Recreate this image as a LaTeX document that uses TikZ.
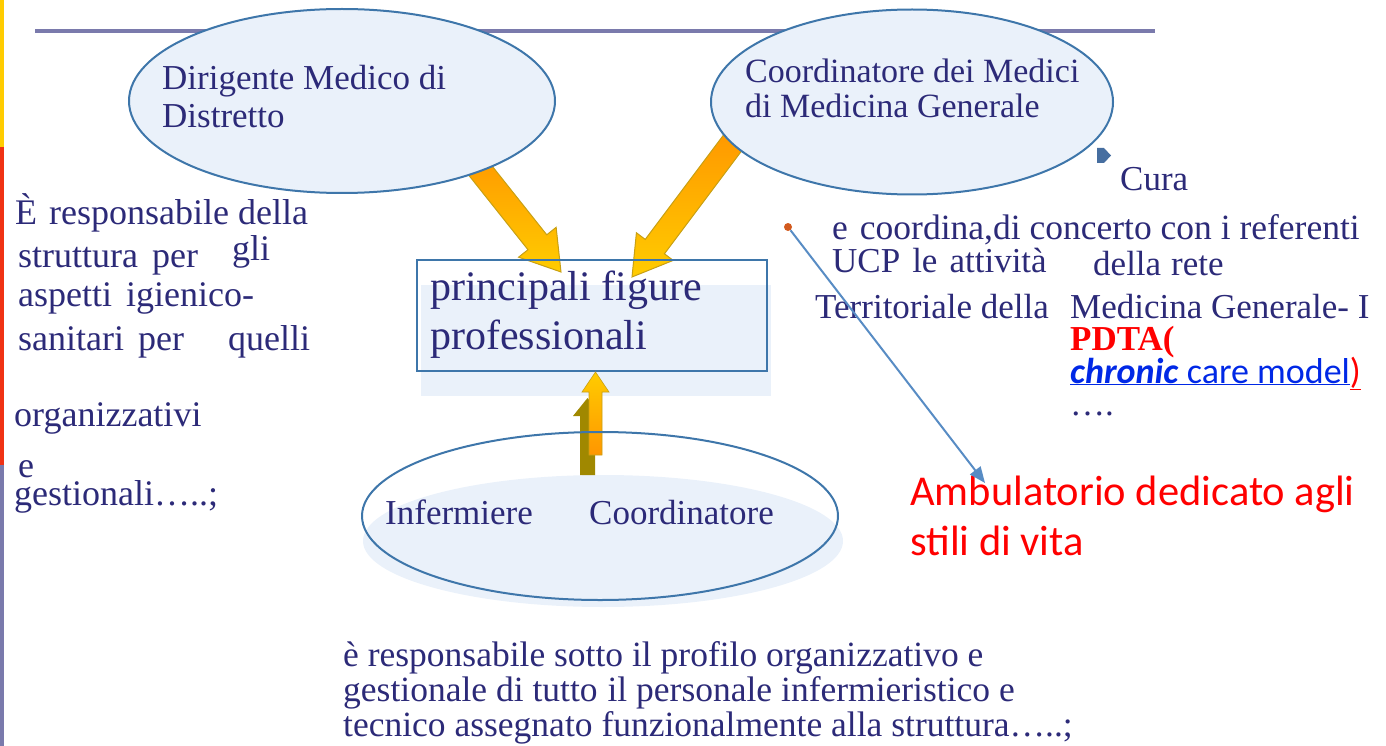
\documentclass[tikz,border=0pt]{standalone}
\usepackage{fontspec}
\setmainfont{Liberation Serif}
\newfontfamily\calibri{Carlito}
\usetikzlibrary{shapes.geometric,arrows.meta,calc,positioning}
\definecolor{navy}{RGB}{44,42,120}
\definecolor{bubblefill}{RGB}{234,241,250}
\definecolor{bubbleline}{RGB}{62,118,170}
\definecolor{rulecol}{RGB}{122,122,172}
\definecolor{arrorange}{RGB}{255,150,0}
\definecolor{arryellow}{RGB}{255,204,0}
\definecolor{arredge}{RGB}{200,160,20}
\definecolor{shadowol}{RGB}{160,136,0}
\definecolor{linkblue}{RGB}{88,140,196}
\definecolor{bulletblue}{RGB}{70,110,160}
\definecolor{dotred}{RGB}{210,90,30}
\definecolor{pdtared}{RGB}{255,0,0}
\definecolor{ccmblue}{RGB}{0,40,230}
\definecolor{baryellow}{RGB}{255,204,0}
\definecolor{barred}{RGB}{240,50,20}

\begin{document}
\begin{tikzpicture}
            [x=1pt,y=-1pt,
             txt/.style={text=navy,font=\fontsize{35}{40}\selectfont,inner sep=0pt,anchor=base west},
             lefttxt/.style={txt,font=\fontsize{36}{40}\selectfont},
             bubble/.style={ellipse,draw=bubbleline,line width=2pt,inner sep=0pt},
             fatarrow/.style={top color=arrorange,bottom color=arryellow,draw=arredge,line width=1pt}]
            \useasboundingbox (0,0) rectangle (1386,746);
            % left edge bars
            \fill[baryellow] (0,0) rectangle (3.5,147);
            \fill[barred] (0,147) rectangle (3.5,465);
            \fill[rulecol] (0,465) rectangle (3.5,746);
            \draw[rulecol, line width=4pt] (35,31) -- (1155,31);

            % arrows into the box
            \coordinate (dtail) at (468,155);
            \coordinate (dtip) at (561,272);
            \coordinate (dhead) at ($(dtip)!38pt!(dtail)$);
            \path[fatarrow] ($(dtail)!12pt!90:(dtip)$) -- ($(dhead)!12pt!90:(dtip)$) -- ($(dhead)!24pt!90:(dtip)$) -- (dtip)
                 -- ($(dhead)!24pt!-90:(dtip)$) -- ($(dhead)!12pt!-90:(dtip)$) -- ($(dtail)!12pt!-90:(dtip)$) -- cycle;
            \coordinate (ctail) at (740,133);
            \coordinate (ctip) at (632,277);
            \coordinate (chead) at ($(ctip)!38pt!(ctail)$);
            \path[fatarrow] ($(ctail)!12pt!90:(ctip)$) -- ($(chead)!12pt!90:(ctip)$) -- ($(chead)!23pt!90:(ctip)$) -- (ctip)
                 -- ($(chead)!23pt!-90:(ctip)$) -- ($(chead)!12pt!-90:(ctip)$) -- ($(ctail)!12pt!-90:(ctip)$) -- cycle;

            \node[bubble, fill=bubblefill, minimum width=426pt, minimum height=184pt] (dirigente) at (342,101) {};
            \node[bubble, fill=bubblefill, minimum width=402pt, minimum height=185pt] (coordmmg) at (912,102) {};

            % central box
            \fill[bubblefill] (421,285) rectangle (771,396);
            \node[draw=bubbleline, line width=2pt, minimum width=350pt, minimum height=111pt, inner sep=0pt] (figure) at (592,315.5) {};

            % upward arrow with shadow
            \fill[bubblefill] (603,541) ellipse [x radius=240, y radius=66];
            \coordinate (stip) at (587.5,398);
            \fill[shadowol] (580,475) -- (580,416) -- (573,416) -- (stip) -- (602,416) -- (595,416) -- (595,475) -- cycle;
            \coordinate (itip) at (595.5,372);
            \path[top color=arryellow, bottom color=arrorange, draw=arredge, line width=0.6pt]
                 (589,455) -- (589,392) -- (582,392) -- (itip) -- (609,392) -- (602,392) -- (602,455) -- cycle;
            \node[bubble, minimum width=476pt, minimum height=168pt] (infermiere) at (600,516) {};

            % texts in the shapes (base = last line)
            \node[txt, align=left, font=\fontsize{35}{38}\selectfont] (dirtxt) at (162,128) {Dirigente Medico di\\Distretto};
            \node[txt, align=left, font=\fontsize{34}{35}\selectfont] (coordtxt) at (745,118) {Coordinatore dei Medici\\di Medicina Generale};
            \node[txt, align=left, font=\fontsize{42}{49}\selectfont] (figtxt) at (430,349) {principali figure\\professionali};
            \node[txt] (inftxt) at (385,524) {Infermiere};
            \node[txt] (coordinf) at (589,524) {Coordinatore};

            % left description
            \node[lefttxt] (l1) at (15,225) {È\hspace{12pt}responsabile della};
            \node[lefttxt] (l2) at (18,267) {struttura\hspace{14pt}per};
            \node[lefttxt] (l2b) at (232,260) {gli};
            \node[lefttxt] (l3) at (18,306) {aspetti\hspace{14pt}igienico-};
            \node[lefttxt] (l4) at (18,350) {sanitari\hspace{14pt}per};
            \node[lefttxt] (l4b) at (228,350) {quelli};
            \node[lefttxt] (l5) at (14,426) {organizzativi};
            \node[lefttxt] (l6) at (18,477) {e};
            \node[lefttxt] (l7) at (14,505) {gestionali…..;};

            % right description
            \fill[bulletblue] (1097,148) -- (1104,148) -- (1111,155.5) -- (1104,163) -- (1097,163) -- cycle;
            \node[txt] (cura) at (1120,190) {Cura};
            \node[txt, font=\fontsize{35.5}{40}\selectfont] (r1) at (832,240) {e\hspace{12pt}coordina,di concerto con i referenti};
            \node[txt] (r2) at (832,272) {UCP\hspace{12pt}le\hspace{12pt}attività};
            \node[txt] (r2b) at (1093,275) {della\hspace{10pt}rete};
            \node[txt] (r3) at (815,318) {Territoriale della};
            \node[txt] (r3b) at (1070,318) {Medicina Generale- I};
            \node[txt, text=pdtared, font=\fontsize{35}{40}\selectfont\bfseries] (pdta) at (1070,350) {PDTA(};
            \node[txt, text=ccmblue, font=\calibri\fontsize{36}{40}\selectfont] (ccm) at (1070,383)
                 {\underline{\textbf{\textit{chronic}} care model}\textcolor{pdtared}{\underline{)}}};
            \node[txt] (dots) at (1070,415) {….};
            \node[txt, text=pdtared, align=left, font=\calibri\fontsize{42.5}{50}\selectfont] (ambul) at (910,555)
                 {Ambulatorio dedicato agli\\stili di vita};

            % link from bullet to ambulatorio
            \node[circle, fill=dotred, inner sep=0pt, minimum size=8pt] (dot) at (788,227) {};
            \coordinate (ambtip) at (985,483);
            \draw[linkblue, line width=2pt, -{Triangle[length=16pt,width=13pt]}] (dot) -- (ambtip);

            % description under the nurse (base = last line)
            \node[txt, align=left, font=\fontsize{35.5}{35}\selectfont] (infdesc) at (343,736)
                 {è responsabile sotto il profilo organizzativo e\\gestionale di tutto\hspace{10pt}il personale infermieristico e\\tecnico assegnato funzionalmente alla struttura…..;};

        \end{tikzpicture}
\end{document}
